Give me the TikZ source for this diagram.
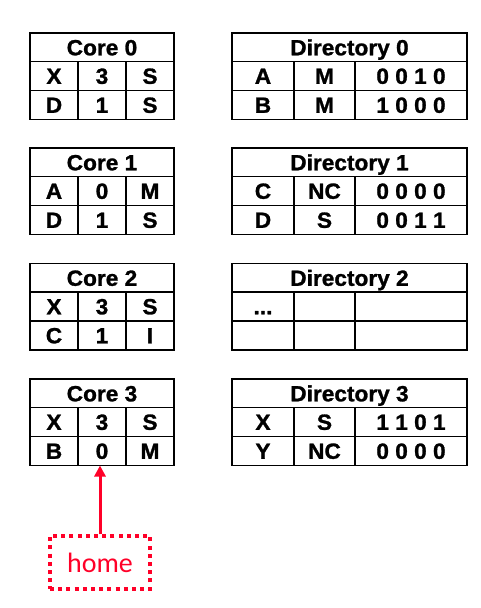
\documentclass[tikz,border=0pt]{standalone}
\usepackage{fontspec}
\setmainfont{Liberation Sans}
\newfontfamily\tblfont[FakeStretch=1.03,FakeBold=1.2]{Liberation Sans Bold}
\newfontfamily\homefont{Carlito}
\usetikzlibrary{arrows.meta}
\definecolor{homered}{RGB}{255,0,40}
\tikzset{
  grid/.style={line width=1.9pt,black},
  cell/.style={font=\tblfont\fontsize{22}{24}\selectfont, inner sep=0pt, text height=15.6pt, text depth=0pt, anchor=center},
  homebox/.style={draw=homered, line width=3.5pt, dash pattern=on 4pt off 4.2pt, minimum width=100pt, minimum height=53pt, inner sep=0pt, text=homered, font=\homefont\fontsize{28}{30}\selectfont},
  homearrow/.style={draw=homered, line width=3pt, -{Triangle[width=11pt,length=11pt]}}
}
% core table: #1 top, #2 name, #3 title, #4-#9 cells
\newcommand\coretable[9]{%
  \begin{scope}[shift={(0,#1)}]
    \draw[grid] (30,0) rectangle (174,86.5);
    \draw[grid] (30,28.5) -- (174,28.5) (30,57.5) -- (174,57.5);
    \draw[grid] (78,28.5) -- (78,86.5) (126,28.5) -- (126,86.5);
    \node[cell] (#2t) at (102,14.5) {#3};
    \node[cell] (#2a) at (54,43) {#4};
    \node[cell] (#2b) at (102,43) {#5};
    \node[cell] (#2c) at (150,43) {#6};
    \node[cell] (#2d) at (54,72) {#7};
    \node[cell] (#2e) at (102,72) {#8};
    \node[cell] (#2f) at (150,72) {#9};
    \coordinate (#2bot) at (100,86.5);
  \end{scope}}
\newcommand\dirtable[9]{%
  \begin{scope}[shift={(0,#1)}]
    \draw[grid] (232,0) rectangle (467,86.5);
    \draw[grid] (232,28.5) -- (467,28.5) (232,57.5) -- (467,57.5);
    \draw[grid] (294,28.5) -- (294,86.5) (355,28.5) -- (355,86.5);
    \node[cell] (#2t) at (349.5,14.5) {#3};
    \node[cell] (#2a) at (263,43) {#4};
    \node[cell] (#2b) at (324.5,43) {#5};
    \node[cell] (#2c) at (411,43) {#6};
    \node[cell] (#2d) at (263,72) {#7};
    \node[cell] (#2e) at (324.5,72) {#8};
    \node[cell] (#2f) at (411,72) {#9};
  \end{scope}}
\begin{document}
\begin{tikzpicture}[x=1pt,y=-1pt]
\useasboundingbox (0,0) rectangle (480,608);
\coretable{33}{c0}{Core 0}{X}{3}{S}{D}{1}{S}
\coretable{148}{c1}{Core 1}{A}{0}{M}{D}{1}{S}
\coretable{263.5}{c2}{Core 2}{X}{3}{S}{C}{1}{I}
\coretable{379}{c3}{Core 3}{X}{3}{S}{B}{0}{M}
\dirtable{33}{d0}{Directory 0}{A}{M}{0 0 1 0}{B}{M}{1 0 0 0}
\dirtable{148}{d1}{Directory 1}{C}{NC}{0 0 0 0}{D}{S}{0 0 1 1}
\dirtable{263.5}{d2}{Directory 2}{...}{}{}{}{}{}
\dirtable{379}{d3}{Directory 3}{X}{S}{1 1 0 1}{Y}{NC}{0 0 0 0}
\node[homebox] (home) at (100,562.5) {home};
\draw[homearrow] (home.north) -- (c3bot);
\end{tikzpicture}
\end{document}
